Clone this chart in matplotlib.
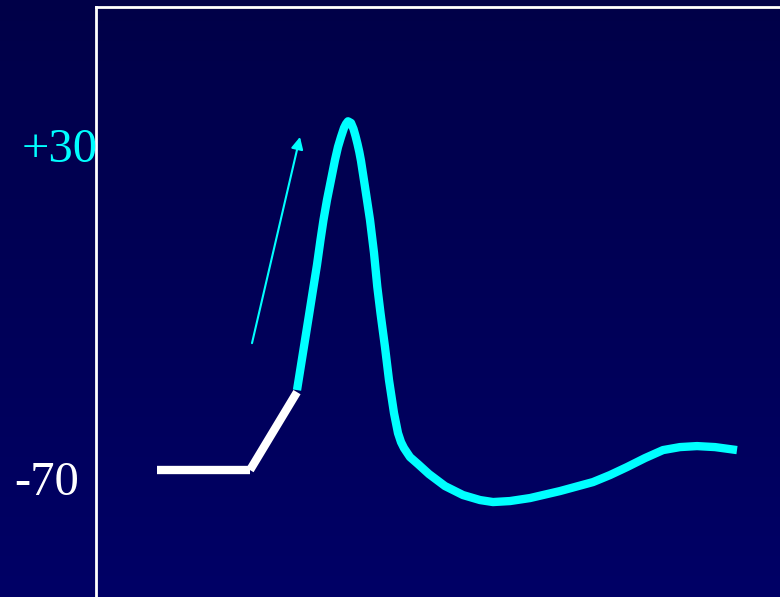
import numpy as np
import matplotlib.pyplot as plt
from matplotlib.colors import LinearSegmentedColormap

# resting / stimulus segment (white), time in ms, membrane potential in mV
rest_t = [0.61, 1.54]
rest_v = [-66.1, -66.1]
stim_t = [1.54, 2.01]
stim_v = [-66.1, -42.7]

# action potential (cyan)
ap_t = [2.010, 2.050, 2.090, 2.130, 2.170, 2.210, 2.245, 2.275, 2.310, 2.350, 2.390, 2.420,
        2.450, 2.480, 2.500, 2.520, 2.550, 2.575, 2.595, 2.615, 2.633, 2.650, 2.670, 2.690,
        2.740, 2.780, 2.813, 2.845, 2.890, 2.930, 2.980, 3.020, 3.050, 3.080, 3.140, 3.220,
        3.330, 3.490, 3.670, 3.840, 3.970, 4.140, 4.340, 4.640, 4.970, 5.140, 5.310, 5.490,
        5.670, 5.840, 6.010, 6.190, 6.410]
ap_v = [-42.1, -34.6, -27.1, -19.6, -12.0, -4.5, 3.0, 9.0, 15.0, 21.0, 27.0, 30.9,
        33.9, 36.6, 37.8, 38.6, 38.1, 36.3, 34.2, 31.8, 29.4, 26.7, 22.8, 18.9,
        9.0, -0.9, -11.1, -19.0, -29.2, -39.1, -49.0, -55.0, -57.7, -59.5, -62.2, -64.3,
        -67.3, -70.9, -73.6, -75.1, -75.7, -75.4, -74.5, -72.4, -69.7, -67.6, -65.2, -62.5,
        -60.1, -59.2, -58.9, -59.2, -60.1]

# depolarisation arrow
arrow_start = (1.56, -28.0)
arrow_end = (2.04, 33.9)

labels = ['+30', '-70']
label_values = [30, -70]

cyan = '#00ffff'

fig = plt.figure(figsize=(7.8, 5.97), dpi=100)

# slight vertical gradient in the background
bg = fig.add_axes([0, 0, 1, 1], zorder=0)
grad = np.linspace(0, 1, 256).reshape(-1, 1)
cmap = LinearSegmentedColormap.from_list('bg', ['#000048', '#000066'])
bg.imshow(grad, aspect='auto', cmap=cmap, extent=[0, 1, 0, 1], origin='upper')
bg.axis('off')

ax = fig.add_axes([96 / 780, 0, 1 - 96 / 780, 1 - 7 / 597], zorder=1)
ax.patch.set_alpha(0)
ax.set_xlim(0, 6.84)
ax.set_ylim(-104.2, 72.9)
for side in ['right', 'bottom']:
    ax.spines[side].set_visible(False)
for side in ['left', 'top']:
    ax.spines[side].set_color('white')
    ax.spines[side].set_linewidth(2)
ax.set_xticks([])
ax.set_yticks([])

ax.plot(rest_t, rest_v, color='white', lw=6, solid_capstyle='butt')
ax.plot(stim_t, stim_v, color='white', lw=6, solid_capstyle='butt')
ax.plot(ap_t, ap_v, color=cyan, lw=6, solid_capstyle='butt', solid_joinstyle='round')

ax.annotate('', xy=arrow_end, xytext=arrow_start,
            arrowprops=dict(arrowstyle='-|>', color=cyan, lw=1.5, mutation_scale=18,
                            shrinkA=0, shrinkB=0))

serif = ['Liberation Serif', 'DejaVu Serif']
ax.text(0.02, label_values[0], labels[0], color=cyan, fontsize=35, family=serif,
        ha='right', va='center', clip_on=False)
ax.text(-0.17, label_values[1], labels[1], color='white', fontsize=35, family=serif,
        ha='right', va='center', clip_on=False)

fig.savefig('out.png', dpi=100)
